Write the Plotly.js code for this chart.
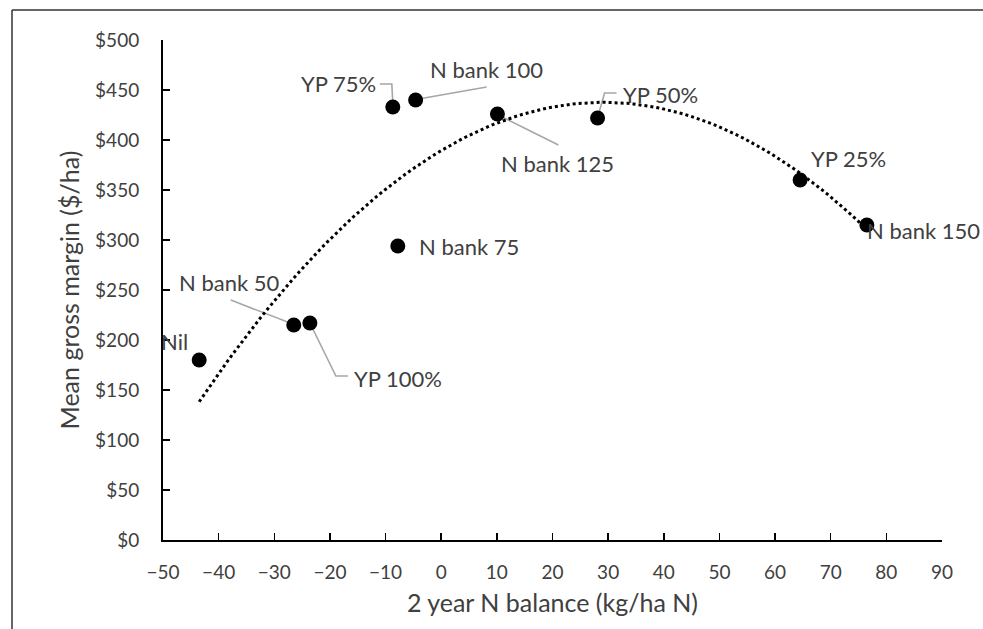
<!DOCTYPE html>
<html>
<head>
<meta charset="utf-8">
<script src="https://cdn.plot.ly/plotly-3.0.1.min.js"></script>
<style>
html,body{margin:0;padding:0;background:#fff;}
#chart{width:983px;height:629px;}
</style>
</head>
<body>
<div id="chart"></div>
<script>
// Data
const treatments = ["Nil","N bank 50","YP 100%","N bank 75","YP 75%","N bank 100","N bank 125","YP 50%","YP 25%","N bank 150"];
const nBalance   = [-43.5, -26.5, -23.6, -7.8, -8.7, -4.6, 10.1, 28.1, 64.5, 76.5];
const grossMargin = [180, 215, 217, 294, 433, 440, 426, 422, 360, 315];

// label placement (pixel shifts from each point: x right, y up)
const labelShift = [
  [-25, 19], [-64, 43], [88, -55], [71, 0], [-54, 24],
  [71, 31], [60, -49], [63, 24], [48, 22], [57, -5]
];
// leader line paths (pixel offsets from each point, y up); null = no leader
const leaderPaths = [
  null,
  "M -1,1 L -63,25",
  "M 0,0 L 26,-53 L 38,-53",
  null,
  "M 0,4 L -1,23 L -13,23",
  "M 3,1 L 71,13",
  "M 3,-2 L 61,-31",
  "M 1,4 L 7,25 L 19,25",
  null,
  null
];

// Quadratic least-squares trendline (as Excel's polynomial order 2)
function polyFit2(xs, ys){
  let n=xs.length, s=[0,0,0,0,0], t=[0,0,0];
  for(let i=0;i<n;i++){
    let x=xs[i], y=ys[i];
    for(let k=0;k<5;k++) s[k]+=Math.pow(x,k);
    for(let k=0;k<3;k++) t[k]+=y*Math.pow(x,k);
  }
  const A=[[s[0],s[1],s[2],t[0]],[s[1],s[2],s[3],t[1]],[s[2],s[3],s[4],t[2]]];
  for(let i=0;i<3;i++){
    let p=A[i][i];
    for(let j=i;j<4;j++) A[i][j]/=p;
    for(let r=0;r<3;r++){ if(r!==i){ let f=A[r][i]; for(let j=i;j<4;j++) A[r][j]-=f*A[i][j]; } }
  }
  return [A[0][3],A[1][3],A[2][3]];
}
const coef = polyFit2(nBalance, grossMargin);
const xMin = Math.min(...nBalance), xMax = Math.max(...nBalance);
const trendX=[], trendY=[];
for(let i=0;i<=120;i++){
  const x = xMin + (xMax-xMin)*i/120;
  trendX.push(x);
  trendY.push(coef[0]+coef[1]*x+coef[2]*x*x);
}

const font = "Lato, 'Open Sans', sans-serif";
const textColor = "#404040";

const annotations = treatments.map((t,i)=>({
  x:nBalance[i], y:grossMargin[i], xref:'x', yref:'y', text:t, showarrow:false,
  xshift:labelShift[i][0], yshift:labelShift[i][1],
  font:{family:font, size:22, color:textColor}
}));

const shapes = [
  {type:'line', xref:'paper', yref:'paper', x0:(12-163)/779, x1:(12-163)/779, y0:(540-10)/500, y1:-0.3, line:{color:'#333', width:1.5}},
  {type:'line', xref:'paper', yref:'paper', x0:(12-163)/779, x1:1.2, y0:(540-10)/500, y1:(540-10)/500, line:{color:'#333', width:1.5}}
];
leaderPaths.forEach((p,i)=>{
  if(!p) return;
  shapes.push({type:'path', xref:'x', yref:'y', xsizemode:'pixel', ysizemode:'pixel',
    xanchor:nBalance[i], yanchor:grossMargin[i], path:p, layer:'below',
    line:{color:'#a6a6a6', width:1.6}});
});

const traces = [
  {x:trendX, y:trendY, mode:'lines', line:{color:'#000', width:3, dash:'dot'}, hoverinfo:'skip', showlegend:false},
  {x:nBalance, y:grossMargin, mode:'markers', text:treatments, marker:{color:'#000', size:15}, showlegend:false}
];

const layout = {
  width:983, height:629,
  margin:{l:163, r:41, t:40, b:89},
  paper_bgcolor:'#fff', plot_bgcolor:'rgba(0,0,0,0)',
  font:{family:font, color:textColor},
  showlegend:false,
  xaxis:{range:[-50,90], dtick:10, tick0:-50, showgrid:false, zeroline:false,
    showline:true, linecolor:'#000', linewidth:2, ticks:'inside', ticklen:7, tickwidth:1.5, tickcolor:'#000',
    tickfont:{family:font, size:19, color:textColor}, ticklabelstandoff:14,
    title:{text:'2 year N balance (kg/ha N)', font:{family:font, size:25, color:textColor}, standoff:13}},
  yaxis:{range:[0,500], dtick:50, showgrid:false, zeroline:false, tickprefix:'$',
    showline:true, linecolor:'#000', linewidth:2, ticks:'inside', ticklen:7, tickwidth:1.5, tickcolor:'#000',
    tickfont:{family:font, size:19, color:textColor}, ticklabelstandoff:18,
    title:{text:'Mean gross margin ($/ha)', font:{family:font, size:25, color:textColor}, standoff:8}},
  annotations:annotations,
  shapes:shapes
};

Plotly.newPlot('chart', traces, layout, {displayModeBar:false, staticPlot:true});
</script>
</body>
</html>
